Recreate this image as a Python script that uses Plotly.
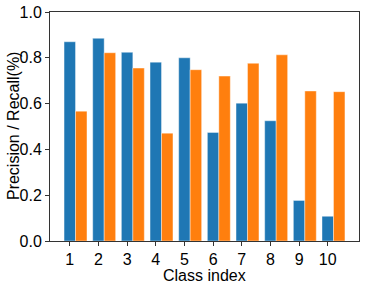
import plotly.graph_objects as go

classes = [1, 2, 3, 4, 5, 6, 7, 8, 9, 10]
precision = [0.870, 0.885, 0.824, 0.781, 0.800, 0.474, 0.602, 0.525, 0.177, 0.108]
recall = [0.567, 0.822, 0.755, 0.471, 0.748, 0.720, 0.776, 0.813, 0.655, 0.652]
y_ticks = [0.0, 0.2, 0.4, 0.6, 0.8, 1.0]

FONT = "Liberation Sans, Arial"

fig = go.Figure()
fig.add_trace(go.Bar(x=classes, y=precision, width=0.4, offset=-0.2,
                     marker=dict(color="#1f77b4", line=dict(color="rgba(255,255,255,0.5)", width=0.8)),
                     name="Precision"))
fig.add_trace(go.Bar(x=classes, y=recall, width=0.4, offset=0.2,
                     marker=dict(color="#ff7f0e", line=dict(color="rgba(255,255,255,0.5)", width=0.8)),
                     name="Recall"))

axis_common = dict(showgrid=False, zeroline=False, showline=True, linecolor="#333333",
                   linewidth=1, mirror=True, ticks="outside", ticklen=4, tickcolor="#333333",
                   automargin=False,
                   tickfont=dict(family=FONT, size=16, color="black"))

fig.update_layout(
    width=366, height=285,
    margin=dict(l=50, r=7, t=12, b=44),
    paper_bgcolor="white", plot_bgcolor="white",
    showlegend=False, barmode="overlay",
    font=dict(family=FONT, size=16, color="black"),
)
fig.update_xaxes(range=[0.31, 11.09], tickmode="array", tickvals=classes,
                 ticktext=[str(c) for c in classes], **axis_common)
fig.update_yaxes(range=[0, 1.0], tickmode="array", tickvals=y_ticks,
                 ticktext=[f"{v:.1f}" for v in y_ticks], **axis_common)

fig.add_annotation(text="Class index", xref="paper", yref="paper", x=0.5, y=-0.105,
                   xanchor="center", yanchor="top", showarrow=False,
                   font=dict(family=FONT, size=16, color="black"))
fig.add_annotation(text="Precision / Recall(%)", xref="paper", yref="paper", x=-0.118, y=0.5,
                   xanchor="center", yanchor="middle", textangle=-90, showarrow=False,
                   font=dict(family=FONT, size=16, color="black"))

fig.write_html("out.html", config={"displayModeBar": False},
               post_script="document.body.style.margin='0';document.body.style.overflow='hidden';")
